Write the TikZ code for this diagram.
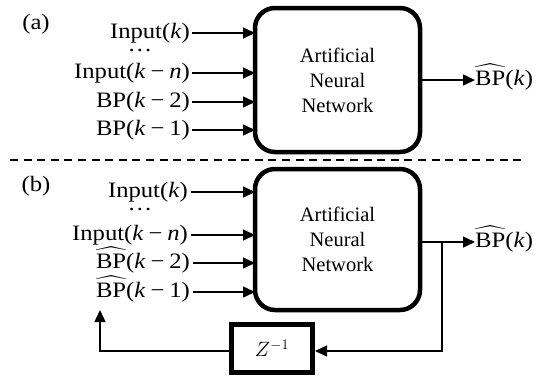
\documentclass[tikz,border=0pt]{standalone}
\usepackage{amsmath}
\usepackage{fontspec}
\setmainfont{Liberation Serif}
\newfontfamily\widefont[FakeStretch=1.12]{Liberation Serif}
\usetikzlibrary{arrows.meta}
\newcommand{\bphat}{$\smash{\widehat{\text{BP}}}$}
\newcommand{\mn}{\hspace{0.22em}−\hspace{0.22em}}
\begin{document}
\begin{tikzpicture}[x=1pt,y=-1pt,
  txt/.style={font=\widefont\fontsize{22}{24}\selectfont, inner sep=0pt},
  lbl/.style={txt, anchor=east},
  ann/.style={draw, line width=4.5pt, rounded corners=20pt, align=center, font=\fontsize{20.5}{25}\selectfont},
  zbox/.style={draw, line width=5pt, font=\fontsize{21}{24}\selectfont},
  conn/.style={line width=1.5pt, -{Triangle[length=12pt,width=11pt]}},
  plain/.style={line width=1.5pt}]
\useasboundingbox (0,0) rectangle (538,376);
% (a)
\node[txt] (la) at (36,24) {(a)};
\node[ann, minimum width=165pt, minimum height=144pt] (A) at (337.5,80) {Artificial\\Neural\\Network};
\node[lbl] (a1) at (190,33) {Input(\textit{k})};
\node[txt] (ad) at (140,51) {\ldots};
\node[lbl] (a2) at (190,73) {Input(\textit{k}\mn\textit{n})};
\node[lbl] (a3) at (190,102) {BP(\textit{k}\mn 2)};
\node[lbl] (a4) at (190,130) {BP(\textit{k}\mn 1)};
\foreach \i/\y in {1/33,2/73,3/102,4/130}{
  \coordinate (ae\i) at (255,\y);
  \draw[conn] (a\i.east) ++(2,0) -- (ae\i);
}
\node[txt, anchor=west] (aout) at (475,80) {\bphat(\textit{k})};
\draw[conn] (A.east) -- (aout.west);
% separator
\coordinate (s1) at (10,160);
\coordinate (s2) at (522,160);
\draw[line width=1.5pt, dash pattern=on 8pt off 5.6pt] (s1) -- (s2);
% (b)
\node[txt] (lb) at (36,186) {(b)};
\node[ann, minimum width=165pt, minimum height=141pt] (B) at (337.5,239.5) {Artificial\\Neural\\Network};
\node[lbl] (b1) at (188,192) {Input(\textit{k})};
\node[txt] (bd) at (140,210) {\ldots};
\node[lbl] (b2) at (188,235) {Input(\textit{k}\mn\textit{n})};
\node[lbl] (b3) at (190,263) {\bphat(\textit{k}\mn 2)};
\node[lbl] (b4) at (190,292) {\bphat(\textit{k}\mn 1)};
\foreach \i/\y in {1/192,2/235,3/263,4/292}{
  \coordinate (be\i) at (255,\y);
  \draw[conn] (b\i.east) ++(3,0) -- (be\i);
}
\node[txt, anchor=west] (bout) at (475,242) {\bphat(\textit{k})};
\draw[conn] (B.east |- bout.west) -- (bout.west);
\node[zbox, minimum width=81pt, minimum height=48pt] (Z) at (272,348.5) {$Z^{-1}$};
\coordinate (br) at (442,242);
\coordinate (bd1) at (442,351);
\coordinate (fb1) at (100,351);
\coordinate (fb2) at (100,310);
\draw[conn] (br) -- (bd1) -- (bd1 -| Z.east);
\draw[conn] (Z.west |- fb1) -- (fb1) -- (fb2);
\end{tikzpicture}
\end{document}
